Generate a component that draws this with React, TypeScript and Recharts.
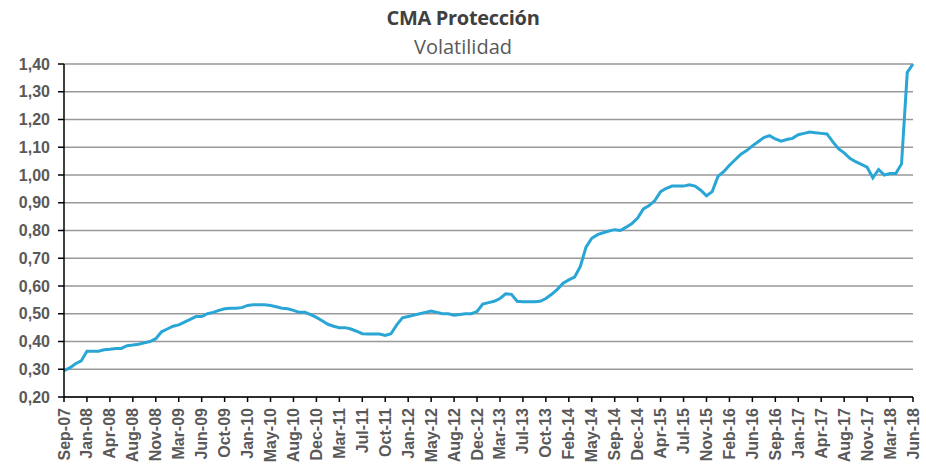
import React from 'react';
import { LineChart, Line, XAxis, YAxis, CartesianGrid } from 'recharts';

// month labels shown on the axis (one every 4 samples)
const tickLabels = [
  'Sep-07', 'Jan-08', 'Apr-08', 'Aug-08', 'Nov-08', 'Mar-09', 'Jun-09', 'Oct-09',
  'Jan-10', 'May-10', 'Aug-10', 'Dec-10', 'Mar-11', 'Jul-11', 'Oct-11', 'Jan-12',
  'May-12', 'Aug-12', 'Dec-12', 'Mar-13', 'Jul-13', 'Oct-13', 'Feb-14', 'May-14',
  'Sep-14', 'Dec-14', 'Apr-15', 'Jul-15', 'Nov-15', 'Feb-16', 'Jun-16', 'Sep-16',
  'Jan-17', 'Apr-17', 'Aug-17', 'Nov-17', 'Mar-18', 'Jun-18',
];

const STEPS_PER_LABEL = 4;

// volatility (4 readings per labelled interval)
const volatilidad = [
  0.295, 0.305, 0.32, 0.33, 0.365, 0.365, 0.365, 0.37, 0.372, 0.375,
  0.375, 0.385, 0.387, 0.39, 0.395, 0.4, 0.41, 0.435, 0.445, 0.455,
  0.46, 0.47, 0.48, 0.49, 0.49, 0.5, 0.505, 0.512, 0.518, 0.52,
  0.52, 0.522, 0.53, 0.532, 0.532, 0.532, 0.53, 0.525, 0.52, 0.518,
  0.512, 0.505, 0.505, 0.497, 0.487, 0.475, 0.462, 0.455, 0.45, 0.45,
  0.445, 0.437, 0.428, 0.427, 0.427, 0.427, 0.422, 0.428, 0.46, 0.485,
  0.49, 0.495, 0.5, 0.505, 0.51, 0.505, 0.5, 0.5, 0.495, 0.497,
  0.5, 0.5, 0.508, 0.535, 0.54, 0.545, 0.555, 0.572, 0.57, 0.545,
  0.543, 0.543, 0.543, 0.545, 0.555, 0.57, 0.588, 0.61, 0.622, 0.632,
  0.67, 0.74, 0.772, 0.785, 0.792, 0.798, 0.803, 0.8, 0.812, 0.825,
  0.845, 0.878, 0.89, 0.908, 0.94, 0.952, 0.96, 0.96, 0.96, 0.965,
  0.96, 0.945, 0.925, 0.94, 0.995, 1.012, 1.035, 1.055, 1.075, 1.088,
  1.105, 1.12, 1.135, 1.142, 1.13, 1.122, 1.128, 1.132, 1.145, 1.15,
  1.155, 1.152, 1.15, 1.148, 1.12, 1.095, 1.08, 1.06, 1.048, 1.038,
  1.028, 0.99, 1.02, 1.0, 1.005, 1.005, 1.04, 1.37, 1.4,
];

const yTicks = [0.2, 0.3, 0.4, 0.5, 0.6, 0.7, 0.8, 0.9, 1.0, 1.1, 1.2, 1.3, 1.4];

const data = volatilidad.map((v, i) => ({ i, v }));
const xTicks = tickLabels.map((_, k) => k * STEPS_PER_LABEL);

const labelFont = '"Liberation Sans", Arial, sans-serif';

const MonthTick = ({ x, y, payload }: any) => {
  const label = tickLabels[Math.round(payload.value / STEPS_PER_LABEL)];
  return (
    <text
      x={0}
      y={0}
      transform={`translate(${x + 5.5},${y + 4}) rotate(-90)`}
      textAnchor="end"
      fontSize={16}
      fontWeight="bold"
      fontFamily={labelFont}
      fill="#595959"
    >
      {label}
    </text>
  );
};

export default function App() {
  return (
    <div style={{ position: 'absolute', left: 0, top: 0, width: 926, height: 471, background: '#fff' }}>
      <div
        style={{
          position: 'absolute', left: 0, width: 926, top: 4, textAlign: 'center',
          fontFamily: '"Open Sans", sans-serif', fontWeight: 'bold', fontSize: 20, color: '#404040',
          letterSpacing: -0.3,
        }}
      >
        CMA Protección
      </div>
      <div
        style={{
          position: 'absolute', left: 0, width: 926, top: 33, textAlign: 'center',
          fontFamily: '"Open Sans", sans-serif', fontSize: 20, color: '#595959',
        }}
      >
        Volatilidad
      </div>
      <LineChart
        width={926}
        height={471}
        data={data}
        margin={{ top: 64, right: 13, bottom: 4, left: 8 }}
        style={{ position: 'absolute', left: 0, top: 0 }}
      >
        <CartesianGrid vertical={false} stroke="#999" strokeWidth={1.5} />
        <XAxis
          dataKey="i"
          type="number"
          domain={[0, volatilidad.length - 1]}
          ticks={xTicks}
          interval={0}
          height={70}
          stroke="#000"
          strokeWidth={1.5}
          tickSize={5}
          tick={<MonthTick />}
        />
        <YAxis
          domain={[0.2, 1.4]}
          ticks={yTicks}
          interval={0}
          width={56}
          stroke="#000"
          strokeWidth={1.5}
          tickSize={6}
          tickMargin={8}
          tickFormatter={(v: number) => v.toFixed(2).replace('.', ',')}
          tick={{ fontSize: 16, fontWeight: 'bold', fontFamily: labelFont, fill: '#595959' }}
        />
        <Line
          type="linear"
          dataKey="v"
          stroke="#2aa6d6"
          strokeWidth={3}
          dot={false}
          isAnimationActive={false}
        />
      </LineChart>
    </div>
  );
}
